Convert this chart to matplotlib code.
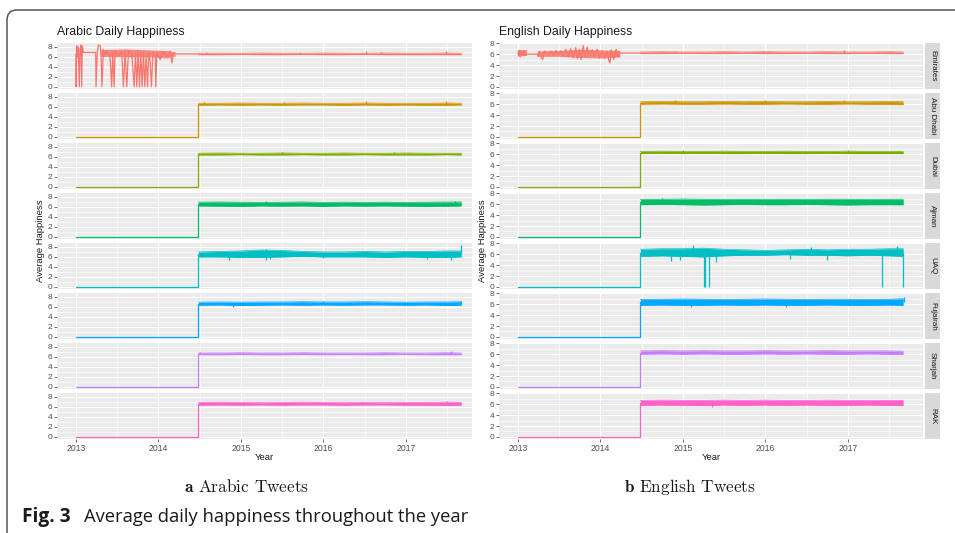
import numpy as np
import matplotlib.pyplot as plt
from matplotlib.patches import FancyBboxPatch
from matplotlib.transforms import IdentityTransform

plt.rcParams['mathtext.fontset'] = 'cm'

# ---- data ----
regions = ['Emirates', 'Abu Dhabi', 'Dubai', 'Ajman', 'UAQ', 'Fujairah', 'Sharjah', 'RAK']
colors = ['#F8766D', '#CD9600', '#7CAE00', '#00BE67', '#00BFC4', '#00A9FF', '#C77CFF', '#FF61CC']
year_ticks = [2013, 2014, 2015, 2016, 2017]
series_start = 2013.0
jump_year = 2014.485

# envelope (daily low / high) of the series after the jump
env_years = [2014.485, 2014.75, 2015.0, 2015.25, 2015.5, 2015.75, 2016.0,
             2016.25, 2016.5, 2016.75, 2017.0, 2017.25, 2017.5, 2017.67]

arabic_low = {
    'Emirates':  [6.45, 6.45, 6.5, 6.45, 6.45, 6.5, 6.45, 6.45, 6.5, 6.45, 6.45, 6.45, 6.45, 6.45],
    'Abu Dhabi': [6.35, 6.4, 6.35, 6.4, 6.35, 6.4, 6.4, 6.35, 6.4, 6.35, 6.4, 6.35, 6.35, 6.4],
    'Dubai':     [6.4, 6.4, 6.45, 6.4, 6.4, 6.45, 6.4, 6.4, 6.45, 6.4, 6.4, 6.4, 6.45, 6.4],
    'Ajman':     [6.2, 6.15, 6.1, 6.2, 6.15, 6.2, 6.1, 6.2, 6.15, 6.2, 6.15, 6.1, 6.15, 6.2],
    'UAQ':       [6.0, 6.0, 5.9, 5.9, 6.0, 6.1, 6.0, 6.0, 6.0, 5.9, 6.0, 5.9, 5.9, 6.0],
    'Fujairah':  [6.35, 6.4, 6.3, 6.35, 6.4, 6.35, 6.4, 6.35, 6.4, 6.4, 6.35, 6.4, 6.3, 6.35],
    'Sharjah':   [6.45, 6.45, 6.5, 6.45, 6.45, 6.5, 6.45, 6.5, 6.45, 6.45, 6.5, 6.45, 6.45, 6.45],
    'RAK':       [6.35, 6.4, 6.35, 6.4, 6.35, 6.4, 6.4, 6.35, 6.4, 6.4, 6.35, 6.35, 6.3, 6.35],
}
arabic_high = {
    'Emirates':  [6.75, 6.75, 6.75, 6.8, 6.75, 6.75, 6.8, 6.75, 6.75, 6.8, 6.75, 6.75, 6.8, 6.75],
    'Abu Dhabi': [6.75, 6.75, 6.8, 6.75, 6.75, 6.8, 6.75, 6.75, 6.8, 6.75, 6.75, 6.75, 6.8, 6.75],
    'Dubai':     [6.75, 6.8, 6.75, 6.75, 6.8, 6.75, 6.75, 6.8, 6.75, 6.75, 6.8, 6.75, 6.75, 6.75],
    'Ajman':     [6.95, 7.0, 6.95, 6.9, 6.95, 7.0, 6.9, 6.95, 6.9, 6.95, 6.9, 6.95, 7.0, 7.0],
    'UAQ':       [7.0, 7.1, 7.2, 7.4, 7.3, 7.1, 7.0, 7.0, 7.1, 7.0, 7.1, 7.1, 7.2, 7.2],
    'Fujairah':  [6.95, 7.0, 6.95, 7.0, 7.0, 7.05, 7.0, 7.0, 7.05, 7.0, 6.95, 7.0, 7.0, 7.05],
    'Sharjah':   [6.8, 6.8, 6.85, 6.8, 6.8, 6.85, 6.8, 6.8, 6.8, 6.85, 6.8, 6.8, 6.85, 6.8],
    'RAK':       [6.9, 6.95, 6.9, 6.85, 6.9, 6.95, 6.9, 6.85, 6.9, 6.85, 6.9, 6.9, 6.95, 6.9],
}
english_low = {
    'Emirates':  [6.1, 6.1, 6.15, 6.1, 6.1, 6.15, 6.1, 6.1, 6.15, 6.1, 6.1, 6.15, 6.1, 6.1],
    'Abu Dhabi': [6.0, 6.05, 6.0, 6.0, 6.05, 6.0, 6.0, 6.05, 6.0, 6.0, 6.05, 6.0, 6.0, 5.95],
    'Dubai':     [6.1, 6.15, 6.1, 6.15, 6.1, 6.1, 6.15, 6.1, 6.1, 6.15, 6.1, 6.1, 6.1, 6.1],
    'Ajman':     [5.9, 5.95, 5.9, 5.85, 5.9, 5.95, 5.9, 5.9, 5.95, 5.9, 5.85, 5.9, 5.9, 5.9],
    'UAQ':       [5.6, 5.7, 5.6, 5.5, 5.7, 5.8, 5.8, 5.9, 5.8, 5.8, 5.7, 5.8, 5.7, 5.6],
    'Fujairah':  [5.8, 5.85, 5.8, 5.8, 5.85, 5.8, 5.85, 5.8, 5.8, 5.85, 5.8, 5.8, 5.85, 5.8],
    'Sharjah':   [6.0, 6.05, 6.0, 6.05, 6.0, 6.0, 6.05, 6.0, 6.05, 6.0, 6.0, 6.05, 6.0, 6.0],
    'RAK':       [5.8, 5.85, 5.8, 5.75, 5.85, 5.8, 5.85, 5.8, 5.85, 5.8, 5.8, 5.85, 5.75, 5.8],
}
english_high = {
    'Emirates':  [6.4, 6.45, 6.4, 6.4, 6.45, 6.4, 6.45, 6.4, 6.4, 6.45, 6.4, 6.4, 6.45, 6.4],
    'Abu Dhabi': [6.45, 6.5, 6.45, 6.45, 6.5, 6.45, 6.5, 6.45, 6.45, 6.5, 6.45, 6.45, 6.5, 6.45],
    'Dubai':     [6.5, 6.55, 6.5, 6.5, 6.55, 6.5, 6.5, 6.55, 6.5, 6.5, 6.55, 6.5, 6.5, 6.5],
    'Ajman':     [6.85, 6.9, 6.95, 6.9, 6.85, 6.9, 6.85, 6.9, 6.85, 6.9, 6.9, 6.85, 6.9, 6.9],
    'UAQ':       [6.9, 7.0, 7.0, 7.1, 6.9, 6.8, 6.7, 6.8, 6.9, 6.8, 6.9, 6.9, 7.0, 7.0],
    'Fujairah':  [6.85, 6.9, 6.95, 6.9, 6.85, 6.9, 6.95, 6.9, 6.85, 6.9, 6.9, 6.85, 6.9, 7.0],
    'Sharjah':   [6.6, 6.65, 6.6, 6.65, 6.6, 6.6, 6.65, 6.6, 6.6, 6.65, 6.6, 6.6, 6.6, 6.55],
    'RAK':       [6.7, 6.75, 6.7, 6.7, 6.75, 6.7, 6.75, 6.7, 6.7, 6.75, 6.7, 6.7, 6.7, 6.7],
}

# single-day spikes / dips: (year, value)
arabic_spikes = {
    'Emirates':  [(2014.57, 7.0), (2015.72, 7.0), (2016.52, 7.1), (2016.70, 7.0), (2017.49, 7.1)],
    'Abu Dhabi': [(2014.55, 7.0), (2015.52, 7.0), (2016.52, 7.1), (2017.48, 7.2)],
    'Dubai':     [(2015.5, 6.95), (2016.85, 6.95)],
    'Ajman':     [(2015.3, 7.2), (2017.6, 7.2)],
    'UAQ':       [(2014.85, 5.4), (2015.3, 5.3), (2015.35, 5.5), (2016.0, 5.7), (2017.25, 5.6),
                  (2017.55, 5.4), (2015.3, 7.6), (2017.67, 8.3)],
    'Fujairah':  [(2014.9, 6.0), (2016.0, 7.2), (2017.67, 7.1)],
    'Sharjah':   [(2014.5, 7.0), (2017.55, 7.1)],
    'RAK':       [(2017.5, 7.2)],
}
english_spikes = {
    'Emirates':  [(2014.9, 6.6), (2015.97, 6.6), (2016.95, 6.7)],
    'Abu Dhabi': [(2014.9, 6.7), (2016.0, 6.7), (2016.95, 6.7)],
    'Dubai':     [(2015.0, 6.7), (2017.0, 6.8)],
    'Ajman':     [(2014.75, 7.1)],
    'UAQ':       [(2014.86, 4.7), (2014.97, 5.0), (2015.25, 0.0), (2015.27, 0.0), (2015.31, 0.0),
                  (2015.40, 4.6), (2016.3, 5.2), (2016.75, 5.0), (2017.41, 0.0), (2017.67, 0.0),
                  (2015.12, 7.6), (2016.55, 7.4), (2017.6, 7.5)],
    'Fujairah':  [(2015.1, 5.4), (2016.25, 5.5), (2017.68, 7.4)],
    'Sharjah':   [],
    'RAK':       [(2015.35, 5.5)],
}

# Emirates before the jump, traced point by point
arabic_emirates_years = [2013.0, 2013.002, 2013.008, 2013.02, 2013.028, 2013.04, 2013.049, 2013.061,
                         2013.069, 2013.077, 2013.089, 2013.239, 2013.243, 2013.259, 2013.271, 2013.292,
                         2013.304, 2013.316, 2013.332, 2013.352, 2013.373, 2013.413, 2013.433, 2013.446,
                         2013.462, 2013.474, 2013.515, 2013.555, 2013.575, 2013.595, 2013.616, 2013.636,
                         2013.677, 2013.705, 2013.721, 2013.737, 2013.753, 2013.77, 2013.786, 2013.802,
                         2013.818, 2013.834, 2013.851, 2013.867, 2013.883, 2013.899, 2013.915, 2013.932,
                         2013.96, 2013.968, 2013.98, 2014.02, 2014.061, 2014.101, 2014.142, 2014.162,
                         2014.183, 2014.223, 2014.485]
arabic_emirates_vals = [6.5, 0.0, 8.3, 6.0, 8.0, 0.0, 7.5, 8.4,
                        0.0, 8.2, 6.9, 6.9, 0.0, 7.0, 8.4, 8.3,
                        6.0, 0.0, 7.5, 6.5, 7.2, 6.0, 0.0, 7.0,
                        0.0, 7.3, 6.2, 7.0, 0.0, 7.1, 0.0, 7.2,
                        6.5, 0.0, 7.0, 0.0, 7.3, 0.0, 6.8, 0.0,
                        7.0, 0.0, 6.5, 0.0, 7.1, 5.0, 0.0, 7.0,
                        6.0, 0.0, 6.8, 5.5, 7.0, 6.0, 7.2, 4.8,
                        6.8, 6.6, 6.6]
english_emirates_years = [2013.0, 2013.01, 2013.02, 2013.03, 2013.045, 2013.06, 2013.07, 2013.085,
                          2013.105, 2013.234, 2013.245, 2013.26, 2013.28, 2013.30, 2013.32, 2013.34,
                          2013.37, 2013.40, 2013.43, 2013.46, 2013.49, 2013.52, 2013.55, 2013.58,
                          2013.61, 2013.64, 2013.67, 2013.70, 2013.72, 2013.745, 2013.765, 2013.79,
                          2013.81, 2013.84, 2013.87, 2013.90, 2013.93, 2013.96, 2013.99, 2014.02,
                          2014.05, 2014.08, 2014.10, 2014.115, 2014.13, 2014.16, 2014.19, 2014.21,
                          2014.236, 2014.485]
english_emirates_vals = [6.3, 5.6, 6.7, 5.5, 6.4, 5.7, 6.6, 5.8,
                         6.0, 6.0, 5.6, 6.5, 5.5, 5.0, 6.6, 6.4,
                         5.8, 6.6, 5.7, 6.7, 5.9, 6.6, 5.6, 6.9,
                         5.5, 7.0, 5.3, 7.2, 5.2, 6.9, 5.0, 7.6,
                         5.5, 7.3, 5.6, 6.8, 5.7, 6.9, 5.3, 6.6,
                         5.2, 6.5, 4.9, 4.4, 6.8, 5.0, 6.9, 5.5,
                         6.2, 6.2]

# dense noisy stretches of the Emirates series before mid-2014: (years, low, high)
arabic_emirates_noise = [
    ([2013.30, 2013.6, 2013.9, 2014.1, 2014.2], [6.1, 6.0, 6.0, 5.8, 6.2], [7.5, 7.6, 7.4, 7.3, 7.0]),
]
english_emirates_noise = [
    ([2013.0, 2013.105], [5.6, 5.6], [6.7, 6.7]),
    ([2013.234, 2013.5, 2013.75, 2014.0, 2014.236], [5.6, 5.6, 5.4, 5.3, 5.5], [6.6, 6.7, 6.9, 6.8, 6.7]),
]

# ---- layout (pixels of a 955 x 533 figure) ----
W, H = 955, 533
fig = plt.figure(figsize=(W / 100, H / 100), dpi=100)
fig.patch.set_facecolor('white')


def px_rect(x, y, w, h):
    return [x / W, 1 - (y + h) / H, w / W, h / H]


def draw_panel(x0, width, xlim, ylim, low, high, spikes, early_x, early_y, early_noise, title, strips):
    for k, region in enumerate(regions):
        top = 43 + 50 * k
        ax = fig.add_axes(px_rect(x0, top, width, 46))
        ax.set_facecolor('#EBEBEB')
        col = colors[k]
        lo = np.array(low[region])
        hi = np.array(high[region])
        mid = (lo + hi) / 2
        if region == 'Emirates':
            ax.plot(early_x, early_y, color=col, lw=0.9, zorder=3)
            for yrs, nlo, nhi in early_noise:
                ax.fill_between(yrs, nlo, nhi, color=col, lw=0, alpha=0.85, zorder=3)
        else:
            ax.plot([series_start, jump_year, jump_year], [0, 0, mid[0]], color=col, lw=0.9, zorder=3)
        ax.fill_between(env_years, lo, hi, color=col, lw=0, zorder=3)
        ax.plot(env_years, lo, color=col, lw=0.5, zorder=3)
        ax.plot(env_years, hi, color=col, lw=0.5, zorder=3)
        for yr, val in spikes[region]:
            base = np.interp(yr, env_years, mid)
            ax.vlines(yr, base, val, color=col, lw=0.9, zorder=3)

        ax.set_xlim(*xlim)
        ax.set_ylim(*ylim)
        ax.set_yticks([0, 2, 4, 6, 8])
        ax.set_yticks([1, 3, 5, 7], minor=True)
        ax.set_xticks(year_ticks)
        ax.set_xticks([y + 0.5 for y in year_ticks], minor=True)
        ax.grid(which='major', color='white', lw=0.75)
        ax.grid(which='minor', color='white', lw=0.4)
        ax.set_axisbelow(True)
        for s in ax.spines.values():
            s.set_visible(False)
        ax.tick_params(axis='y', which='major', length=2, width=0.5, color='#333333',
                       labelsize=6, labelcolor='#4D4D4D', pad=1.2)
        ax.tick_params(which='minor', length=0)
        ax.yaxis.set_tick_params(labelfontfamily='Liberation Sans')
        if k == len(regions) - 1:
            ax.tick_params(axis='x', which='major', length=2, width=0.5, color='#333333',
                           labelsize=6.2, labelcolor='#4D4D4D', pad=1.5)
            ax.xaxis.set_tick_params(labelfontfamily='Liberation Sans')
        else:
            ax.tick_params(axis='x', which='major', length=0, labelbottom=False)

        if strips:
            sax = fig.add_axes(px_rect(x0 + width + 2, top, 15, 46))
            sax.set_facecolor('#D9D9D9')
            sax.set_xticks([])
            sax.set_yticks([])
            for s in sax.spines.values():
                s.set_visible(False)
            sax.text(0.5, 0.5, region, rotation=270, ha='center', va='center', fontsize=5.8,
                     color='#1A1A1A', family='Liberation Sans', transform=sax.transAxes)

    fig.text(x0 / W, 1 - 32 / H, title, ha='left', va='center', fontsize=8.8,
             color='#1A1A1A', family='Liberation Sans')
    fig.text((x0 + width / 2) / W, 1 - 457 / H, 'Year', ha='center', va='center', fontsize=6.8,
             color='#1A1A1A', family='Liberation Sans')
    fig.text((x0 - 17) / W, 1 - 241 / H, 'Average Happiness', ha='center', va='center', rotation=90,
             fontsize=6.8, color='#1A1A1A', family='Liberation Sans')


draw_panel(57, 415, (2012.77, 2017.80), (-0.45, 8.8), arabic_low, arabic_high, arabic_spikes,
           arabic_emirates_years, arabic_emirates_vals, arabic_emirates_noise,
           'Arabic Daily Happiness', False)
draw_panel(499, 424, (2012.77, 2017.91), (-0.38, 8.05), english_low, english_high, english_spikes,
           english_emirates_years, english_emirates_vals, english_emirates_noise,
           'English Daily Happiness', True)

# sub captions
fig.text(247 / W, 1 - 487 / H, r'$\mathbf{a}$ Arabic Tweets', ha='center', va='center',
         fontsize=12.4, family='cmr10', color='#1A1A1A')
fig.text(690 / W, 1 - 487 / H, r'$\mathbf{b}$ English Tweets', ha='center', va='center',
         fontsize=12.4, family='cmr10', color='#1A1A1A')

# figure caption
fig.text(22 / W, 1 - 517 / H, 'Fig. 3', ha='left', va='center', fontsize=13.8,
         fontweight='bold', family='Open Sans', color='#1A1A1A')
fig.text(84 / W, 1 - 517 / H, 'Average daily happiness throughout the year', ha='left', va='center',
         fontsize=13.2, family='Open Sans', color='#1A1A1A')

# rounded frame, open to the right and bottom
frame = FancyBboxPatch((7, -30), 1100, H - 10 + 30, boxstyle='round,pad=0,rounding_size=10',
                       transform=IdentityTransform(), fill=False, edgecolor='#555555', lw=1.1)
fig.add_artist(frame)

fig.savefig('out.png', dpi=100)
